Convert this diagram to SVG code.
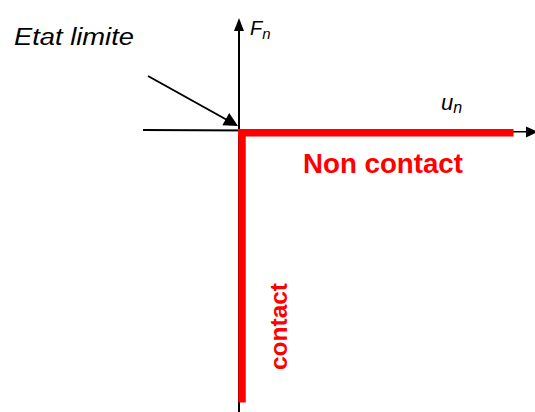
<svg xmlns="http://www.w3.org/2000/svg" width="535" height="412" viewBox="0 0 535 412">
<style>
.ax{stroke:#000;stroke-width:2;fill:none}
.red{stroke:#ff0000;stroke-width:7.5;fill:none}
.lbl{font-family:"Liberation Sans",Arial,sans-serif;font-style:italic;fill:#000}
.rl{font-family:"Liberation Sans",Arial,sans-serif;font-weight:bold;fill:#ff0000}
</style>
<rect width="535" height="412" fill="#fff"/>
<g id="connectors">
<line class="ax" x1="143" y1="130" x2="528" y2="131.5"/>
<polygon points="538,131.8 526,126.5 526,137.5" fill="#000"/>
<line class="ax" x1="239" y1="412" x2="239" y2="28"/>
<polygon points="239,18 234,31 244,31" fill="#000"/>
<line class="ax" x1="148" y1="76" x2="228" y2="120.5"/>
<polygon points="238,126 222.4,125.3 229.2,113.1" fill="#000"/>
</g>
<g id="non-contact">
<line class="red" x1="238" y1="132.8" x2="513.5" y2="132.8"/>
<text class="rl" x="303" y="173" font-size="28.5" textLength="160" lengthAdjust="spacingAndGlyphs">Non contact</text>
</g>
<g id="contact">
<line class="red" x1="242" y1="129" x2="242" y2="402.5"/>
<text class="rl" font-size="24.5" transform="translate(287,370) rotate(-90)" textLength="87" lengthAdjust="spacingAndGlyphs">contact</text>
</g>
<g id="etat-limite">
<text class="lbl" x="14" y="45" font-size="23" textLength="120" lengthAdjust="spacingAndGlyphs">Etat limite</text>
</g>
<g id="axis-labels">
<text class="lbl" x="250" y="35" font-size="20">F<tspan font-size="15" dy="4">n</tspan></text>
<text class="lbl" x="441" y="110" font-size="22">u<tspan font-size="16" dy="2.5">n</tspan></text>
</g>
</svg>
